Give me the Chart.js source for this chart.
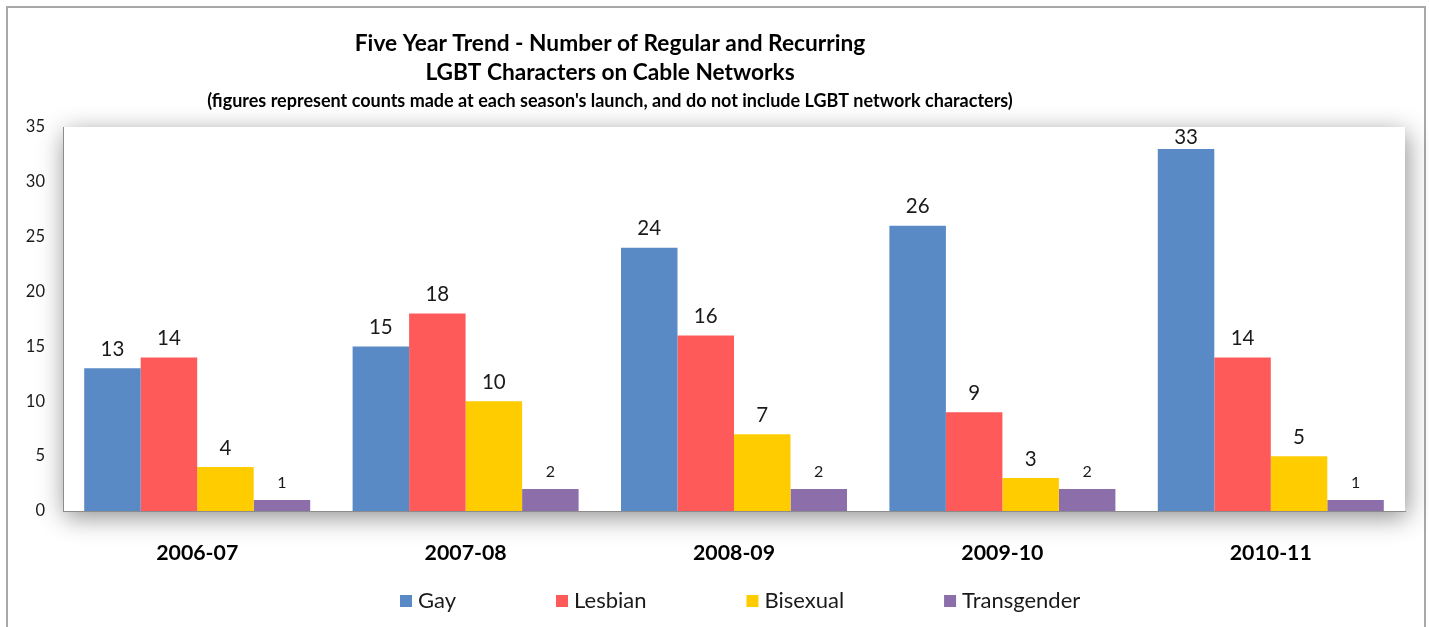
<!DOCTYPE html>
<html>
<head>
<meta charset="utf-8">
<script src="https://cdn.jsdelivr.net/npm/chart.js@4/dist/chart.umd.min.js"></script>
<style>
  body { margin: 0; background: #fff; }
  #frame { position: absolute; left: 6px; top: 6px; width: 1416px; height: 700px; border: 2px solid #a8a8a8; }
  #myChart { position: absolute; left: 0; top: 0; }
</style>
</head>
<body>
<div id="frame"></div>
<canvas id="myChart" width="1429" height="627"></canvas>
<script>
const categories = ['2006-07', '2007-08', '2008-09', '2009-10', '2010-11']
const seriesNames = ['Gay', 'Lesbian', 'Bisexual', 'Transgender']
const gay = [13, 15, 24, 26, 33]
const lesbian = [14, 18, 16, 9, 14]
const bisexual = [4, 10, 7, 3, 5]
const transgender = [1, 2, 2, 2, 1]
const yMin = 0
const yMax = 35
const yStep = 5

const titleLines = ['Five Year Trend - Number of Regular and Recurring', 'LGBT Characters on Cable Networks']
const subtitle = "(figures represent counts made at each season's launch, and do not include LGBT network characters)"

const colors = ['#5a8ac6', '#ff5a5a', '#ffcc00', '#8b6eaa']
const FONT = 'Lato, "Open Sans", sans-serif'

// white plot area with a soft shadow like the excel original
const plotShadow = {
    id: 'plotShadow',
    beforeDraw(chart) {
        const {ctx, chartArea: a} = chart
        ctx.save()
        ctx.shadowColor = 'rgba(0,0,0,0.45)'
        ctx.shadowBlur = 24
        ctx.shadowOffsetX = 2
        ctx.shadowOffsetY = 6
        ctx.fillStyle = '#fff'
        ctx.fillRect(a.left, a.top, a.right - a.left, a.bottom - a.top)
        ctx.restore()
    }
}

const valueLabels = {
    id: 'valueLabels',
    afterDatasetsDraw(chart) {
        const ctx = chart.ctx
        const top = chart.chartArea.top
        ctx.save()
        ctx.textAlign = 'center'
        ctx.textBaseline = 'middle'
        ctx.fillStyle = '#1a1a1a'
        chart.data.datasets.forEach((ds, i) => {
            const small = i === 3
            ctx.font = (small ? '16px ' : '20.5px ') + FONT
            chart.getDatasetMeta(i).data.forEach((bar, j) => {
                // keep the label inside the plot area, excel does the same
                const y = Math.max(bar.y - (small ? 17 : 19), top + 10)
                ctx.fillText(ds.data[j], bar.x, y)
            })
        })
        ctx.restore()
    }
}

const titleAndLegend = {
    id: 'titleAndLegend',
    afterDraw(chart) {
        const ctx = chart.ctx
        ctx.save()
        ctx.fillStyle = '#000'
        ctx.textAlign = 'center'
        ctx.textBaseline = 'middle'
        ctx.font = 'bold 22.7px ' + FONT
        ctx.fillText(titleLines[0], 610, 44)
        ctx.fillText(titleLines[1], 610, 73)
        ctx.font = 'bold 18px ' + FONT
        ctx.fillText(subtitle, 610, 101)

        // legend: box, text, then a fixed gap
        ctx.font = '22px ' + FONT
        ctx.textAlign = 'left'
        let x = 400
        chart.data.datasets.forEach((ds, i) => {
            ctx.fillStyle = ds.backgroundColor
            ctx.fillRect(x, 595, 12, 12)
            ctx.fillStyle = '#1a1a1a'
            ctx.fillText(ds.label, x + 18, 601)
            x += 18 + ctx.measureText(ds.label).width + 100
        })
        ctx.restore()
    }
}

const ctx = document.getElementById('myChart').getContext('2d')
const seriesData = [gay, lesbian, bisexual, transgender]

new Chart(ctx, {
    type: 'bar',
    data: {
        labels: categories,
        datasets: seriesNames.map((name, i) => ({
            label: name,
            data: seriesData[i],
            backgroundColor: colors[i],
            borderWidth: 0,
            categoryPercentage: 0.842,
            barPercentage: 1
        }))
    },
    options: {
        responsive: false,
        animation: false,
        layout: {padding: {top: 127, right: 24, left: 0, bottom: 0}},
        plugins: {
            legend: {display: false},
            title: {display: false},
            tooltip: {enabled: false}
        },
        scales: {
            x: {
                grid: {display: false, drawTicks: false},
                border: {display: true, color: '#8c8c8c', width: 1},
                ticks: {color: '#000', padding: 29, font: {family: FONT, size: 21.3, weight: 'bold'}},
                afterFit(scale) { scale.height = 116 }
            },
            y: {
                min: yMin,
                max: yMax,
                grid: {display: false, drawTicks: false},
                border: {display: true, color: '#8c8c8c', width: 1},
                ticks: {stepSize: yStep, color: '#1a1a1a', padding: 18, font: {family: FONT, size: 16.5}},
                afterFit(scale) { scale.width = 63 }
            }
        }
    },
    plugins: [plotShadow, valueLabels, titleAndLegend]
})
</script>
</body>
</html>
